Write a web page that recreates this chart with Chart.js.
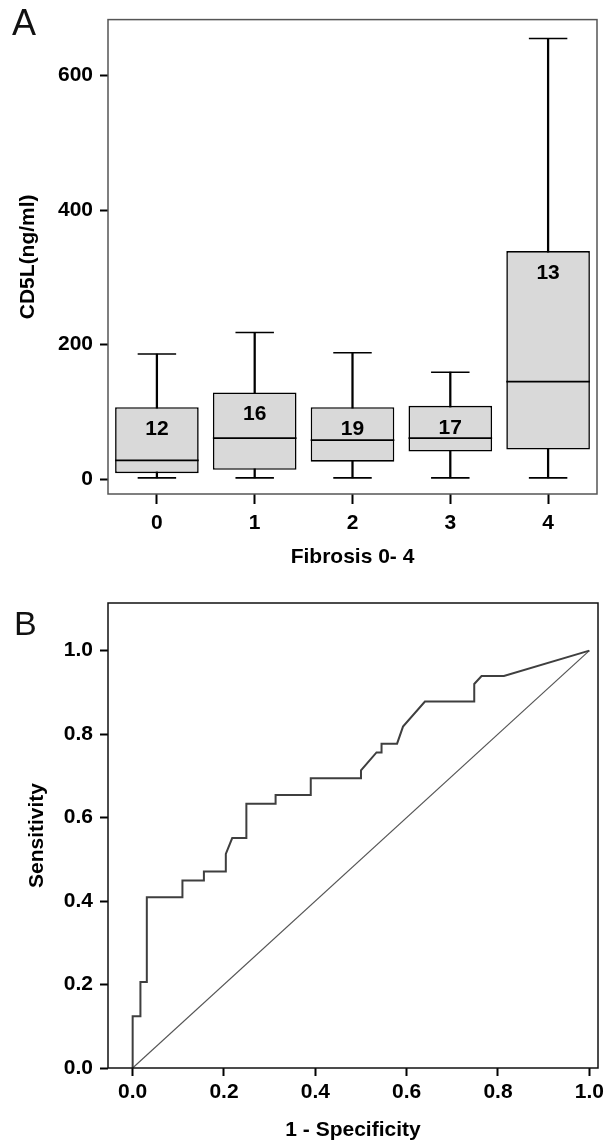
<!DOCTYPE html>
<html>
<head>
<meta charset="utf-8">
<title>CD5L and fibrosis</title>
<script src="https://cdn.jsdelivr.net/npm/chart.js@4.4.1/dist/chart.umd.min.js"></script>
<style>
    html, body { margin: 0; padding: 0; background: #fff; }
    #page { position: relative; width: 613px; height: 1145px; overflow: hidden; background: #fff; }
    .panel { position: absolute; left: 0; width: 613px; }
    #panelA { top: 0; height: 575px; }
    #panelB { top: 575px; height: 570px; }
    .letter {
        position: absolute;
        font-family: 'Liberation Sans', Arial, sans-serif;
        line-height: 1;
        color: #111;
    }
</style>
</head>
<body>
<div id="page">
    <div class="panel" id="panelA"><canvas id="boxChart" width="613" height="575"></canvas></div>
    <div class="panel" id="panelB"><canvas id="rocChart" width="613" height="570"></canvas></div>
    <div class="letter" style="left:12px; top:5px; font-size:36px;">A</div>
    <div class="letter" style="left:14px; top:606px; font-size:34px;">B</div>
</div>

<script>
// --- Data ---

// Panel A: CD5L by fibrosis stage
const STAGES = ['0', '1', '2', '3', '4'];
const CASE_COUNTS = [12, 16, 19, 17, 13];
const CD5L_MIN = [2, 2, 2, 2, 2];
const CD5L_Q1 = [9, 14, 26, 41, 44];
const CD5L_MEDIAN = [28, 61, 58, 61, 145];
const CD5L_Q3 = [107, 129, 107, 109, 339];
const CD5L_MAX = [186, 218, 188, 159, 655];
const CD5L_TICKS = [0, 200, 400, 600];

// Panel B: ROC curve
const ROC_FPR = [0, 0, 0.017, 0.017, 0.031, 0.031, 0.109, 0.109, 0.156, 0.156, 0.204, 0.204,
    0.218, 0.249, 0.249, 0.313, 0.313, 0.390, 0.390, 0.500, 0.500, 0.534, 0.545, 0.545,
    0.579, 0.592, 0.640, 0.748, 0.748, 0.764, 0.813, 1.0];
const ROC_TPR = [0, 0.124, 0.124, 0.206, 0.206, 0.409, 0.409, 0.449, 0.449, 0.471, 0.471, 0.513,
    0.551, 0.551, 0.633, 0.633, 0.654, 0.654, 0.694, 0.694, 0.713, 0.756, 0.756, 0.777,
    0.777, 0.818, 0.878, 0.878, 0.920, 0.939, 0.939, 1.0];
const REF_FPR = [0, 1];
const REF_TPR = [0, 1];
const ROC_TICKS = [0, 0.2, 0.4, 0.6, 0.8, 1.0];

// --- Shared styling ---

const FONT_FAMILY = "'Liberation Sans', Arial, Helvetica, sans-serif";
const BOLD_21 = { family: FONT_FAMILY, size: 21, weight: 'bold' };
const TEXT_COLOR = '#000';
const BOX_RATIO = 0.855;

Chart.defaults.font.family = FONT_FAMILY;
Chart.defaults.color = TEXT_COLOR;

// draws the rectangle round the plot area
const framePlugin = {
    id: 'frame',
    afterDatasetsDraw(chart, args, opts) {
        const { ctx, chartArea: a } = chart;
        ctx.save();
        ctx.strokeStyle = opts.color || '#000';
        ctx.lineWidth = opts.width || 1.5;
        ctx.strokeRect(a.left, a.top, a.right - a.left, a.bottom - a.top);
        ctx.restore();
    }
};

// writes the n of each group inside its box, just under the upper quartile
const countLabelPlugin = {
    id: 'countLabels',
    afterDatasetsDraw(chart) {
        const { ctx, scales: { x, y } } = chart;
        ctx.save();
        ctx.font = `bold 21px ${FONT_FAMILY}`;
        ctx.fillStyle = TEXT_COLOR;
        ctx.textAlign = 'center';
        ctx.textBaseline = 'middle';
        CASE_COUNTS.forEach((n, i) => {
            ctx.fillText(String(n), x.getPixelForValue(i), y.getPixelForValue(CD5L_Q3[i]) + 22);
        });
        ctx.restore();
    }
};

function boxHalfWidth(ctx) {
    const xs = ctx.chart.scales.x;
    if (!xs) return 40;
    return (xs.width / STAGES.length) * BOX_RATIO / 2;
}

function tickMarks(extra) {
    return Object.assign({
        display: true,
        drawOnChartArea: false,
        drawTicks: true,
        tickLength: 8,
        tickWidth: 2,
        tickColor: '#000',
        offset: false
    }, extra || {});
}

// --- Panel A: box plot ---

function renderBoxChart() {
    const markStyle = {
        type: 'line',
        showLine: false,
        pointStyle: 'line',
        pointBorderColor: '#000',
        pointBorderWidth: 1.6,
        pointBackgroundColor: '#000',
        order: 1
    };

    new Chart(document.getElementById('boxChart'), {
        type: 'bar',
        data: {
            labels: STAGES,
            datasets: [
                {
                    label: 'whisker',
                    data: STAGES.map((s, i) => [CD5L_MIN[i], CD5L_MAX[i]]),
                    backgroundColor: '#000',
                    barThickness: 1.6,
                    grouped: false,
                    order: 3
                },
                {
                    label: 'box',
                    data: STAGES.map((s, i) => [CD5L_Q1[i], CD5L_Q3[i]]),
                    backgroundColor: '#d9d9d9',
                    borderColor: '#000',
                    borderWidth: 1.6,
                    borderSkipped: false,
                    barPercentage: BOX_RATIO,
                    categoryPercentage: 1,
                    grouped: false,
                    order: 2
                },
                Object.assign({ label: 'median', data: CD5L_MEDIAN, pointRadius: boxHalfWidth, pointHoverRadius: boxHalfWidth }, markStyle),
                Object.assign({ label: 'max', data: CD5L_MAX, pointRadius: c => boxHalfWidth(c) * 0.46, pointHoverRadius: c => boxHalfWidth(c) * 0.46 }, markStyle),
                Object.assign({ label: 'min', data: CD5L_MIN, pointRadius: c => boxHalfWidth(c) * 0.46, pointHoverRadius: c => boxHalfWidth(c) * 0.46 }, markStyle)
            ]
        },
        options: {
            responsive: false,
            devicePixelRatio: 1,
            animation: false,
            events: [],
            layout: { padding: { top: 15, right: 16, left: 0, bottom: 0 } },
            plugins: {
                legend: { display: false },
                tooltip: { enabled: false },
                frame: { color: '#555', width: 1.5 }
            },
            scales: {
                x: {
                    type: 'category',
                    offset: true,
                    border: { display: false },
                    grid: tickMarks({ tickLength: 10 }),
                    ticks: { font: BOLD_21, color: TEXT_COLOR, padding: 7, maxRotation: 0 },
                    title: { display: true, text: 'Fibrosis 0- 4', font: BOLD_21, color: TEXT_COLOR, padding: { top: 0, bottom: 5 } },
                    afterFit: s => { s.height = 81; }
                },
                y: {
                    min: -22,
                    max: 683,
                    border: { display: false },
                    grid: tickMarks(),
                    ticks: { font: BOLD_21, color: TEXT_COLOR, padding: 7 },
                    afterBuildTicks: s => { s.ticks = CD5L_TICKS.map(v => ({ value: v })); },
                    title: { display: true, text: 'CD5L(ng/ml)', font: BOLD_21, color: TEXT_COLOR, padding: { top: 16, bottom: 0 } },
                    afterFit: s => { s.width = 108; }
                }
            }
        },
        plugins: [framePlugin, countLabelPlugin]
    });
}

// --- Panel B: ROC curve ---

function renderRocChart() {
    new Chart(document.getElementById('rocChart'), {
        type: 'scatter',
        data: {
            datasets: [
                {
                    label: 'ROC',
                    data: ROC_FPR.map((x, i) => ({ x, y: ROC_TPR[i] })),
                    showLine: true,
                    borderColor: '#3f3f3f',
                    borderWidth: 2,
                    pointRadius: 0,
                    tension: 0
                },
                {
                    label: 'Reference',
                    data: REF_FPR.map((x, i) => ({ x, y: REF_TPR[i] })),
                    showLine: true,
                    borderColor: '#555',
                    borderWidth: 1.2,
                    pointRadius: 0,
                    tension: 0
                }
            ]
        },
        options: {
            responsive: false,
            devicePixelRatio: 1,
            animation: false,
            events: [],
            layout: { padding: { top: 28, right: 15, left: 0, bottom: 0 } },
            plugins: {
                legend: { display: false },
                tooltip: { enabled: false },
                frame: { color: '#111', width: 1.5 }
            },
            scales: {
                x: {
                    type: 'linear',
                    min: -0.054,
                    max: 1.019,
                    border: { display: false },
                    grid: tickMarks({ tickLength: 8 }),
                    ticks: { font: BOLD_21, color: TEXT_COLOR, padding: 4, callback: v => v.toFixed(1) },
                    afterBuildTicks: s => { s.ticks = ROC_TICKS.map(v => ({ value: v })); },
                    title: { display: true, text: '1 - Specificity', font: BOLD_21, color: TEXT_COLOR, padding: { top: 0, bottom: 2 } },
                    afterFit: s => { s.height = 77; }
                },
                y: {
                    type: 'linear',
                    min: 0,
                    max: 1.114,
                    border: { display: false },
                    grid: tickMarks(),
                    ticks: { font: BOLD_21, color: TEXT_COLOR, padding: 7, callback: v => v.toFixed(1) },
                    afterBuildTicks: s => { s.ticks = ROC_TICKS.map(v => ({ value: v })); },
                    title: { display: true, text: 'Sensitivity', font: BOLD_21, color: TEXT_COLOR, padding: { top: 25, bottom: 0 } },
                    afterFit: s => { s.width = 108; }
                }
            }
        },
        plugins: [framePlugin]
    });
}

renderBoxChart();
renderRocChart();
</script>
</body>
</html>
